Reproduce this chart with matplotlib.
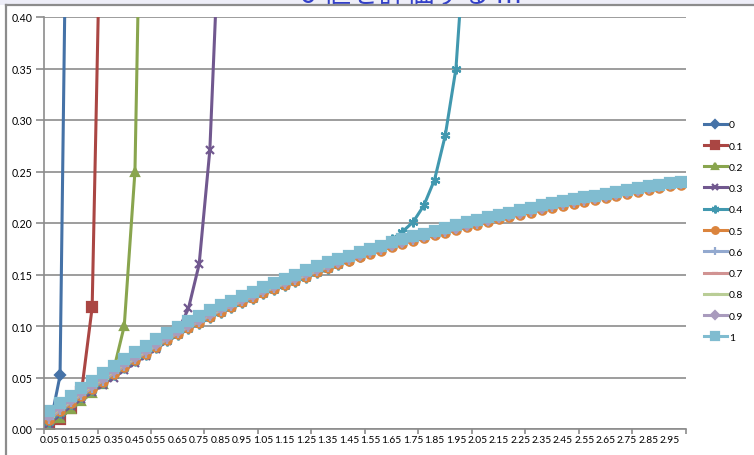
import matplotlib
matplotlib.use("Agg")
import matplotlib.pyplot as plt
import numpy as np
from matplotlib.lines import Line2D
from matplotlib.patches import Rectangle

# categories on the x axis (sigma)
sigma = [0.05, 0.10, 0.15, 0.20, 0.25, 0.30, 0.35, 0.40, 0.45, 0.50,
         0.55, 0.60, 0.65, 0.70, 0.75, 0.80, 0.85, 0.90, 0.95, 1.00,
         1.05, 1.10, 1.15, 1.20, 1.25, 1.30, 1.35, 1.40, 1.45, 1.50,
         1.55, 1.60, 1.65, 1.70, 1.75, 1.80, 1.85, 1.90, 1.95, 2.00,
         2.05, 2.10, 2.15, 2.20, 2.25, 2.30, 2.35, 2.40, 2.45, 2.50,
         2.55, 2.60, 2.65, 2.70, 2.75, 2.80, 2.85, 2.90, 2.95, 3.00]

s00 = [0.000, 0.052, 0.86] + [None] * 57
s01 = [0.002, 0.010, 0.020, 0.036, 0.118, 0.62] + [None] * 54
s02 = [0.003, 0.011, 0.019, 0.027, 0.035, 0.044, 0.057, 0.100, 0.250, 0.80] + [None] * 50
s03 = [0.005, 0.014, 0.022, 0.029, 0.036, 0.043, 0.050, 0.057, 0.064, 0.071,
       0.078, 0.085, 0.095, 0.117, 0.160, 0.271, 0.52] + [None] * 43
s04 = [0.007, 0.016, 0.024, 0.031, 0.038, 0.045, 0.052, 0.059, 0.066, 0.072,
       0.079, 0.085, 0.091, 0.097, 0.102, 0.108, 0.113, 0.117, 0.122, 0.126,
       0.131, 0.135, 0.139, 0.143, 0.147, 0.151, 0.155, 0.159, 0.163, 0.167,
       0.174, 0.178, 0.184, 0.1916, 0.201, 0.217, 0.242, 0.285, 0.350, 0.50] + [None] * 20
s05 = [0.009, 0.017, 0.025, 0.032, 0.039, 0.046, 0.053, 0.060, 0.067, 0.073,
       0.080, 0.086, 0.092, 0.098, 0.103, 0.109, 0.114, 0.118, 0.123, 0.127,
       0.132, 0.136, 0.140, 0.144, 0.148, 0.152, 0.156, 0.160, 0.163, 0.167,
       0.170, 0.173, 0.177, 0.180, 0.1825, 0.185, 0.188, 0.1905, 0.193, 0.196,
       0.198, 0.201, 0.2035, 0.2055, 0.208, 0.210, 0.2125, 0.2145, 0.2165, 0.2185,
       0.2205, 0.2225, 0.2245, 0.2265, 0.2285, 0.230, 0.232, 0.2335, 0.2355, 0.237]
s06 = [0.010, 0.018, 0.026, 0.033, 0.040, 0.047, 0.054, 0.061, 0.068, 0.074,
       0.081, 0.087, 0.093, 0.099, 0.104, 0.110, 0.115, 0.119, 0.124, 0.128,
       0.133, 0.137, 0.141, 0.145, 0.149, 0.153, 0.157, 0.161, 0.164, 0.168,
       0.171, 0.174, 0.178, 0.181, 0.1835, 0.186, 0.189, 0.1915, 0.194, 0.197,
       0.199, 0.202, 0.2045, 0.2065, 0.209, 0.211, 0.2135, 0.2155, 0.2175, 0.2195,
       0.2215, 0.2235, 0.2255, 0.2275, 0.2295, 0.231, 0.233, 0.2345, 0.2365, 0.238]
s07 = [0.011, 0.019, 0.027, 0.034, 0.041, 0.048, 0.055, 0.062, 0.069, 0.075,
       0.082, 0.088, 0.094, 0.100, 0.105, 0.111, 0.116, 0.120, 0.125, 0.129,
       0.134, 0.138, 0.142, 0.146, 0.150, 0.154, 0.158, 0.162, 0.165, 0.169,
       0.172, 0.175, 0.179, 0.182, 0.1845, 0.187, 0.190, 0.1925, 0.195, 0.198,
       0.200, 0.203, 0.2055, 0.2075, 0.210, 0.212, 0.2145, 0.2165, 0.2185, 0.2205,
       0.2225, 0.2245, 0.2265, 0.2285, 0.2305, 0.232, 0.234, 0.2355, 0.2375, 0.239]
s08 = [0.012, 0.020, 0.027, 0.035, 0.042, 0.049, 0.056, 0.063, 0.069, 0.076,
       0.082, 0.089, 0.095, 0.100, 0.106, 0.111, 0.116, 0.121, 0.125, 0.130,
       0.134, 0.138, 0.142, 0.146, 0.150, 0.154, 0.158, 0.162, 0.165, 0.169,
       0.172, 0.175, 0.179, 0.182, 0.1845, 0.187, 0.190, 0.1925, 0.195, 0.198,
       0.200, 0.203, 0.2055, 0.2075, 0.210, 0.212, 0.2145, 0.2165, 0.2185, 0.2205,
       0.2225, 0.2245, 0.2265, 0.2285, 0.2305, 0.232, 0.234, 0.2355, 0.2375, 0.239]
s09 = [0.013, 0.021, 0.028, 0.036, 0.043, 0.050, 0.057, 0.064, 0.070, 0.077,
       0.083, 0.089, 0.095, 0.101, 0.106, 0.112, 0.117, 0.121, 0.126, 0.130,
       0.135, 0.139, 0.143, 0.147, 0.151, 0.155, 0.159, 0.162, 0.166, 0.169,
       0.173, 0.176, 0.179, 0.182, 0.185, 0.1875, 0.190, 0.193, 0.1955, 0.198,
       0.2005, 0.203, 0.2055, 0.208, 0.210, 0.2125, 0.2145, 0.217, 0.219, 0.221,
       0.223, 0.2245, 0.2265, 0.2285, 0.2305, 0.2325, 0.234, 0.2355, 0.2375, 0.2385]
s10 = [0.0175, 0.025, 0.032, 0.040, 0.047, 0.054, 0.061, 0.068, 0.075, 0.081,
       0.087, 0.093, 0.099, 0.105, 0.110, 0.116, 0.120, 0.124, 0.129, 0.133,
       0.138, 0.142, 0.146, 0.150, 0.154, 0.158, 0.162, 0.165, 0.168, 0.172,
       0.175, 0.178, 0.182, 0.1845, 0.187, 0.1895, 0.1925, 0.195, 0.198, 0.2007,
       0.203, 0.2055, 0.208, 0.210, 0.2126, 0.2146, 0.217, 0.219, 0.221, 0.223,
       0.225, 0.2265, 0.2285, 0.2304, 0.2323, 0.2343, 0.236, 0.237, 0.239, 0.240]

series_names = ["0", "0.1", "0.2", "0.3", "0.4", "0.5", "0.6", "0.7", "0.8", "0.9", "1"]
series_vals = [s00, s01, s02, s03, s04, s05, s06, s07, s08, s09, s10]

colors = ["#4572A7", "#AA4643", "#89A54E", "#71588F", "#4198AF", "#DB843D",
          "#93A9CF", "#D19392", "#B9CD96", "#A99BBD", "#80BCD0"]
markers = ["D", "s", "^", "x", (6, 2, 0), "o", "+", "_", "_", "D", "s"]
msizes = [5, 7, 6, 6, 7, 6, 7, 6, 8, 5, 7.5]

plt.rcParams['font.family'] = ['Lato', 'DejaVu Sans']

fig = plt.figure(figsize=(7.54, 4.56), dpi=100)
fig.patch.set_facecolor("white")

# slide background strip and frame at the top (title is cut by the screenshot)
fig.patches.append(Rectangle((0, 1 - 5.5 / 456), 1, 5.5 / 456, transform=fig.transFigure,
                             facecolor="#eeeef8", edgecolor="none", zorder=0))
fig.text(0.545, 1 - 3.0 / 456, "σ 値を評価する m", ha="center", va="baseline",
         fontsize=20, color="#3340c8", family=['Noto Sans CJK JP', 'DejaVu Sans'], zorder=1)
fig.add_artist(Line2D([5.5 / 754, 1], [1 - 5.5 / 456, 1 - 5.5 / 456], transform=fig.transFigure,
                      color="#8c8c8c", lw=1.6, zorder=2))
fig.add_artist(Line2D([5.5 / 754, 5.5 / 754], [0, 1 - 5.5 / 456], transform=fig.transFigure,
                      color="#8c8c8c", lw=1.6, zorder=2))

ax = fig.add_axes([44 / 754, 26 / 456, 642 / 754, 412 / 456])
x = np.arange(len(sigma))

for name, vals, c, m, ms in zip(series_names, series_vals, colors, markers, msizes):
    y = np.array(vals, dtype=float)
    ax.plot(x, y, color=c, lw=2.2, marker=m, markersize=ms, markeredgewidth=1.6,
            markerfacecolor=c, markeredgecolor=c, label=name)

ax.set_xlim(-0.5, len(sigma) - 0.5)
ax.set_ylim(0, 0.40)
ax.set_yticks(np.arange(0, 0.401, 0.05))
ax.set_yticklabels(["%.2f" % v for v in np.arange(0, 0.401, 0.05)])
ax.yaxis.grid(True, color="#8c8c8c", lw=1.2)
ax.set_axisbelow(True)

# tick marks every 5 categories, labels every other category
ax.set_xticks(np.arange(-0.5, len(sigma), 5))
ax.set_xticklabels([])
ax.set_xticks(x[::2], minor=True)
ax.set_xticklabels(["%.2f" % s for s in sigma[::2]], minor=True)
ax.tick_params(axis="x", which="major", length=3.5, width=1.2, color="#8c8c8c")
ax.tick_params(axis="x", which="minor", length=0, pad=4, labelsize=7.4)
ax.tick_params(axis="y", length=6, width=1.2, color="#8c8c8c", pad=2.5, labelsize=7.6)

for sp in ["top", "right"]:
    ax.spines[sp].set_visible(False)
for sp in ["left", "bottom"]:
    ax.spines[sp].set_color("#8c8c8c")
    ax.spines[sp].set_linewidth(1.2)

leg = fig.legend(loc="center left", bbox_to_anchor=(704 / 754, 1 - 232 / 456), frameon=False,
                 fontsize=7.5, handlelength=2.2, handletextpad=0.2, labelspacing=1.15,
                 borderpad=0, borderaxespad=0, markerscale=0.8)

fig.savefig("out.png", dpi=100)
